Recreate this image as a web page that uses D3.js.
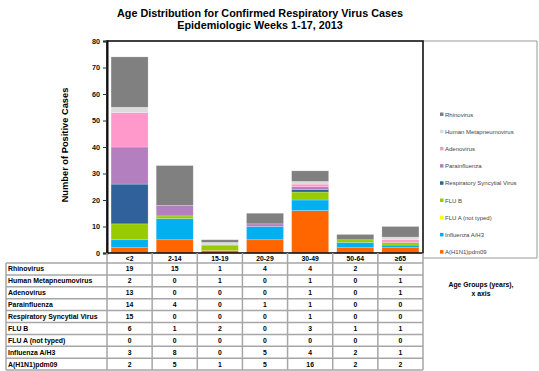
<!DOCTYPE html>
<html><head><meta charset="utf-8">
<script src="https://cdn.jsdelivr.net/npm/d3@7"></script>
<style>body{margin:0;background:#fff}svg{display:block;font-family:"Liberation Sans",Arial,sans-serif}</style>
</head><body><svg id="c" width="539" height="371"></svg>
<script>
const categories = ["<2","2-14","15-19","20-29","30-49","50-64","\u226565"];
const seriesNames = ["Rhinovirus","Human Metapneumovirus","Adenovirus","Parainfluenza","Respiratory Syncytial Virus","FLU B","FLU A (not typed)","Influenza A/H3","A(H1N1)pdm09"];
const rhinovirus    = [19,15,1,4,4,2,4];
const metapneumo    = [2,0,1,0,1,0,1];
const adenovirus    = [13,0,0,0,1,0,1];
const parainfluenza = [14,4,0,1,1,0,0];
const rsv           = [15,0,0,0,1,0,0];
const fluB          = [6,1,2,0,3,1,1];
const fluANotTyped  = [0,0,0,0,0,0,0];
const fluAH3        = [3,8,0,5,4,2,1];
const h1n1          = [2,5,1,5,16,2,2];
const yTicks = [0,10,20,30,40,50,60,70,80];
const colors = ["#808080","#dcdcdc","#ff99cc","#b47fbe","#31619a","#99cc00","#ffff00","#00b0f0","#ff6600"];

const seriesValues = [rhinovirus,metapneumo,adenovirus,parainfluenza,rsv,fluB,fluANotTyped,fluAH3,h1n1];
const svg = d3.select("#c");
const L=107,R=423,T=41,B=253;
const x = d3.scaleBand().domain(categories).range([L,R]).paddingInner(0.18).paddingOuter(0.09);
const y = d3.scaleLinear().domain([0,80]).range([B,T]);

// title
svg.append("text").attr("x",260).attr("y",17).attr("text-anchor","middle")
  .attr("font-size",10.8).attr("font-weight","bold").text("Age Distribution for Confirmed Respiratory Virus Cases");
svg.append("text").attr("x",260).attr("y",29).attr("text-anchor","middle")
  .attr("font-size",10.8).attr("font-weight","bold").text("Epidemiologic Weeks 1-17, 2013");

// outer legend frame
svg.append("path").attr("d",`M${R},${T}H537V258H${R}`).attr("fill","none").attr("stroke","#999").attr("stroke-width",1);

// stacked bars: bottom series = A(H1N1)pdm09
const rows = categories.map((c,j)=>{const o={cat:c}; seriesNames.forEach((s,i)=>o[s]=seriesValues[i][j]); return o;});
const stack = d3.stack().keys(seriesNames.slice().reverse())(rows);
const colorOf = d3.scaleOrdinal().domain(seriesNames).range(colors);
svg.append("g").selectAll("g").data(stack).join("g").attr("fill",d=>colorOf(d.key))
  .selectAll("rect").data(d=>d).join("rect")
  .attr("x",d=>x(d.data.cat)).attr("width",x.bandwidth())
  .attr("y",d=>y(d[1])).attr("height",d=>y(d[0])-y(d[1]))
  .attr("stroke",d=>d[1]>d[0]?"rgba(255,255,255,0.35)":"none").attr("stroke-width",0.6);

// plot frame
svg.append("rect").attr("x",L).attr("y",T).attr("width",R-L).attr("height",B-T)
  .attr("fill","none").attr("stroke","#111").attr("stroke-width",1.6);

// y axis
const ya = svg.append("g").attr("transform",`translate(${L},0)`)
  .call(d3.axisLeft(y).tickValues(yTicks).tickSize(4).tickPadding(3));
ya.select(".domain").attr("stroke","#111").attr("stroke-width",2);
ya.selectAll("line").attr("stroke","#333");
ya.selectAll("text").attr("font-size",7.3).attr("font-weight","bold").attr("fill","#111").attr("font-family","Liberation Sans, Arial");

svg.append("text").attr("transform",`translate(68,${(T+B)/2 - 2}) rotate(-90)`).attr("text-anchor","middle")
  .attr("font-size",9.3).attr("font-weight","bold").text("Number of Positive Cases");

// legend
const lg = svg.append("g").selectAll("g").data(seriesNames).join("g")
  .attr("transform",(d,i)=>`translate(440,${115+i*17.2})`);
lg.append("rect").attr("x",0).attr("y",-2.5).attr("width",3.5).attr("height",3.5).attr("fill",d=>colorOf(d));
lg.append("text").attr("x",5).attr("y",1).attr("dy","0.1em").attr("font-size",6).attr("fill","#444").text(d=>d);

// data table
const rowH = 11.9, hdrTop = B, hdrBot = 263;
const tg = svg.append("g");
const lineC = "#a6a6a6";
tg.selectAll("text.hdr").data(categories).join("text").attr("class","hdr")
  .attr("x",d=>x(d)+x.bandwidth()/2).attr("y",hdrTop+7.5).attr("text-anchor","middle")
  .attr("font-size",6.8).attr("font-weight","bold").text(d=>d);
const colEdges = d3.range(categories.length+1).map(i=>L+i*(R-L)/categories.length);
const tableBottom = hdrBot + rowH*seriesNames.length;
colEdges.forEach((cx,i)=>{
  tg.append("line").attr("x1",cx).attr("x2",cx).attr("y1",hdrTop).attr("y2",tableBottom)
    .attr("stroke",lineC).attr("stroke-width",1.5);
});
tg.append("line").attr("x1",6).attr("x2",6).attr("y1",hdrBot).attr("y2",tableBottom).attr("stroke",lineC).attr("stroke-width",1.5);
d3.range(seriesNames.length+1).forEach(i=>{
  const yy = hdrBot+i*rowH;
  tg.append("line").attr("x1",6).attr("x2",R).attr("y1",yy).attr("y2",yy).attr("stroke",lineC).attr("stroke-width",1.5);
});
seriesNames.forEach((s,i)=>{
  const cy = hdrBot+i*rowH+rowH/2+2.4;
  tg.append("text").attr("x",8).attr("y",cy).attr("font-size",6.9).attr("font-weight","bold").text(s);
  seriesValues[i].forEach((v,j)=>{
    tg.append("text").attr("x",x(categories[j])+x.bandwidth()/2).attr("y",cy).attr("text-anchor","middle")
      .attr("font-size",6.8).attr("font-weight","bold").text(v);
  });
});

svg.append("text").attr("x",481).attr("y",287).attr("text-anchor","middle").attr("font-size",6.8).attr("font-weight","bold").text("Age Groups (years),");
svg.append("text").attr("x",481).attr("y",296).attr("text-anchor","middle").attr("font-size",6.8).attr("font-weight","bold").text("x axis");
</script></body></html>
